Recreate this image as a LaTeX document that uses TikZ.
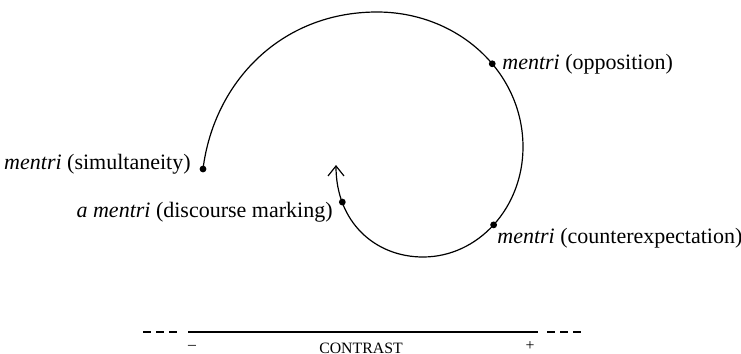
\documentclass[tikz,border=0pt]{standalone}
\usepackage{fontspec}
\setmainfont{Liberation Serif}
\usetikzlibrary{arrows.meta}
\begin{document}
\begin{tikzpicture}[x=0.5pt,y=-0.5pt,
  spiral/.style={line width=0.6pt},
  dot/.style={circle,fill=black,inner sep=0pt,minimum size=3.4pt},
  lbl/.style={inner sep=0pt,font=\fontsize{11}{13}\selectfont},
  axis/.style={line width=0.6pt},
  dashes/.style={line width=0.6pt,dash pattern=on 4pt off 2.5pt},
  small/.style={inner sep=0pt,font=\fontsize{7.9}{9}\selectfont}]
\useasboundingbox (0,0) rectangle (741,354);
% spiral
\node[dot] (d1) at (203,169) {};
\draw[spiral,-{Straight Barb[length=5pt,width=8pt,line width=0.6pt]}]
  (d1.center) .. controls (214,82) and (281,12) .. (377,12)
  .. controls (458,12) and (523,72) .. node[dot,pos=0.58] (d2) {} (523,147)
  .. controls (523,208) and (478,257) .. node[dot,pos=0.5] (d3) {} (423,257)
  .. controls (375,257) and (336,222) .. node[dot,pos=0.76] (d4) {} (336,165);
% labels
\node[lbl,anchor=base east] (l1) at (191,169) {\textit{mentri} (simultaneity)};
\node[lbl,anchor=base west] (l2) at (502,69) {\textit{mentri} (opposition)};
\node[lbl,anchor=base west] (l3) at (497,243) {\textit{mentri} (counterexpectation)};
\node[lbl,anchor=base east] (l4) at (333,217) {\textit{a mentri} (discourse marking)};
% contrast axis
\coordinate (axL) at (188,332);
\coordinate (axR) at (538,332);
\coordinate (dlA) at (143,332);
\coordinate (dlB) at (177,332);
\coordinate (drA) at (547,332);
\coordinate (drB) at (583,332);
\draw[axis] (axL) -- (axR);
\draw[dashes] (dlA) -- (dlB);
\draw[dashes] (drA) -- (drB);
\node[small] (minus) at (192,347) {–};
\node[small] (plus) at (530,346) {+};
\node[small] (contrast) at (361,348) {CONTRAST};
\end{tikzpicture}
\end{document}
